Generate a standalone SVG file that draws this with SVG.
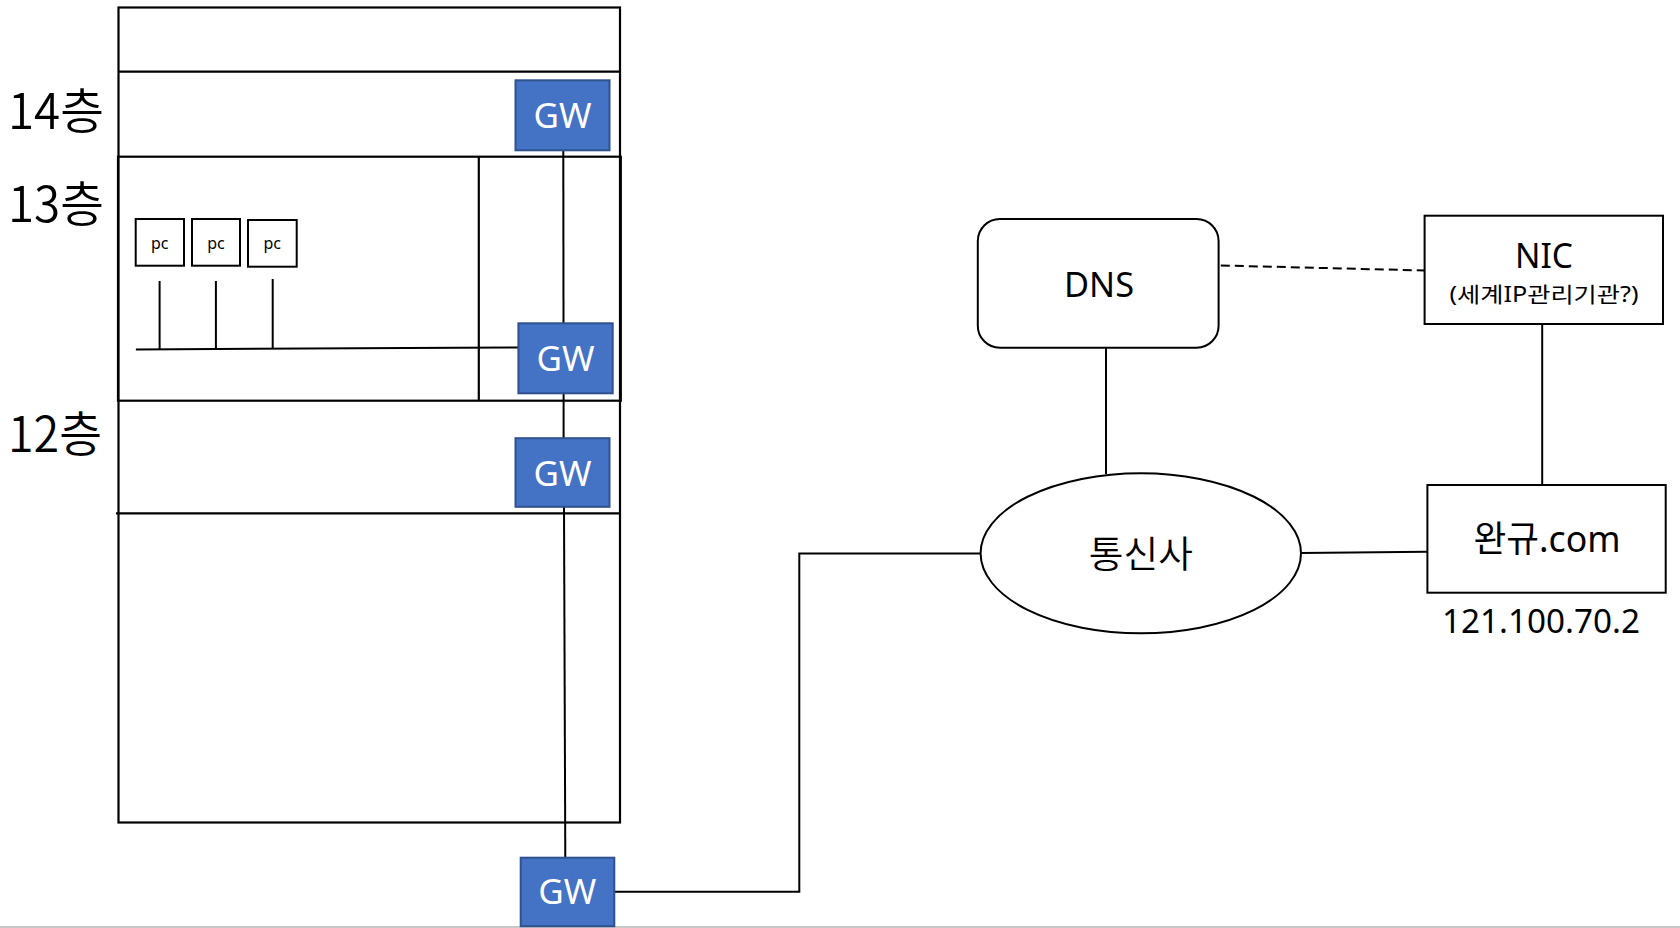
<svg xmlns="http://www.w3.org/2000/svg" width="1680" height="928" viewBox="0 0 1680 928">
<style>
.ln{stroke:#000;stroke-width:2;fill:none}
.bld{stroke:#000;stroke-width:2.2;fill:none}
.gw{fill:#4472C4;stroke:#2F528F;stroke-width:2}
.gwt{font-family:"Noto Sans","Open Sans",sans-serif;font-size:35px;fill:#fff;text-anchor:middle}
.box{fill:#fff;stroke:#000;stroke-width:2}
.t{font-family:"Noto Sans","Noto Sans CJK KR",sans-serif;fill:#000;text-anchor:middle}
.k{font-family:"Noto Sans CJK KR","Noto Sans",sans-serif;fill:#000}
</style>
<rect width="1680" height="928" fill="#fff"/>
<line x1="0" y1="927" x2="1680" y2="927" stroke="#c8c8c8" stroke-width="2"/>

<g id="building">
  <rect class="bld" x="118.5" y="7.5" width="501.5" height="815"/>
  <line class="bld" x1="118.5" y1="71.7" x2="621" y2="71.7"/>
  <rect class="bld" x="118" y="156.7" width="502.8" height="244" stroke-width="2.6"/>
  <line class="bld" x1="478.8" y1="156.7" x2="478.8" y2="400.7"/>
  <line class="bld" x1="116" y1="513.3" x2="620" y2="513.3"/>
</g>

<g id="floor-labels" class="k" font-size="49" font-weight="350">
  <text x="8" y="128.8" textLength="96" lengthAdjust="spacingAndGlyphs">14층</text>
  <text x="8" y="222.2" textLength="96" lengthAdjust="spacingAndGlyphs">13층</text>
  <text x="8" y="451.5" textLength="94" lengthAdjust="spacingAndGlyphs">12층</text>
</g>

<g id="connectors">
  <line class="ln" x1="563.3" y1="150.3" x2="563.5" y2="323.3"/>
  <line class="ln" x1="563.6" y1="393.3" x2="563.6" y2="438.2"/>
  <line class="ln" x1="564" y1="506.8" x2="565.3" y2="857.7"/>
  <polyline class="ln" points="614.3,891.7 799.3,891.7 799.3,553.5 981,553.5"/>
  <line class="ln" x1="135.9" y1="349.4" x2="518.4" y2="347.5"/>
  <line class="ln" x1="159.6" y1="281" x2="159.6" y2="349.3"/>
  <line class="ln" x1="215.9" y1="281" x2="215.9" y2="349"/>
  <line class="ln" x1="272.7" y1="279" x2="272.7" y2="348.7"/>
  <line class="ln" x1="1220.8" y1="265.5" x2="1424.6" y2="270.5" stroke-dasharray="9 5"/>
  <line class="ln" x1="1106" y1="347.7" x2="1106" y2="474"/>
  <line class="ln" x1="1542.2" y1="324" x2="1542.2" y2="485"/>
  <line class="ln" x1="1301" y1="553" x2="1427.4" y2="551.8"/>
</g>

<g id="gw14"><rect class="gw" x="515.5" y="80.3" width="94" height="70"/><text class="gwt" x="562.5" y="128.3" textLength="58" lengthAdjust="spacingAndGlyphs">GW</text></g>
<g id="gw13"><rect class="gw" x="518.4" y="323.3" width="94.3" height="70"/><text class="gwt" x="565.5" y="370.7" textLength="58" lengthAdjust="spacingAndGlyphs">GW</text></g>
<g id="gw12"><rect class="gw" x="515.5" y="438.2" width="94" height="68.6"/><text class="gwt" x="562.5" y="485.5" textLength="58" lengthAdjust="spacingAndGlyphs">GW</text></g>
<g id="gw-main"><rect class="gw" x="520.7" y="857.7" width="93.6" height="68.5"/><text class="gwt" x="567.3" y="904" textLength="58" lengthAdjust="spacingAndGlyphs">GW</text></g>

<g id="pc1"><rect class="box" x="135.7" y="219" width="48.3" height="46.7"/><text class="t" x="159.8" y="249" font-size="16">pc</text></g>
<g id="pc2"><rect class="box" x="192" y="219" width="48" height="46.7"/><text class="t" x="216" y="249" font-size="16">pc</text></g>
<g id="pc3"><rect class="box" x="248" y="220" width="48.7" height="46.7"/><text class="t" x="272.3" y="249" font-size="16">pc</text></g>

<g id="dns"><rect class="box" x="977.8" y="219" width="240.8" height="128.7" rx="22" ry="22"/><text class="t" x="1099" y="296.7" font-size="35" textLength="70" lengthAdjust="spacingAndGlyphs">DNS</text></g>
<g id="nic"><rect class="box" x="1424.6" y="215.7" width="238.4" height="108.3"/>
  <text class="t" x="1544" y="268.3" font-size="35" textLength="58" lengthAdjust="spacingAndGlyphs">NIC</text>
  <text class="t" x="1544" y="301.7" font-size="21" textLength="189" lengthAdjust="spacingAndGlyphs">(세계IP관리기관?)</text>
</g>
<g id="telecom"><ellipse cx="1140.8" cy="553.3" rx="160.2" ry="80" fill="#fff" stroke="#000" stroke-width="2"/><text class="k" x="1140.8" y="568" font-size="37" font-weight="350" text-anchor="middle" textLength="104" lengthAdjust="spacingAndGlyphs">통신사</text></g>
<g id="server"><rect class="box" x="1427.4" y="485" width="238.3" height="107.7"/><text class="t" x="1547" y="552.3" font-size="36" textLength="147" lengthAdjust="spacingAndGlyphs">완규.com</text></g>
<g id="ip-label"><text class="t" x="1541" y="633.3" font-size="32" textLength="198" lengthAdjust="spacingAndGlyphs">121.100.70.2</text></g>
</svg>
